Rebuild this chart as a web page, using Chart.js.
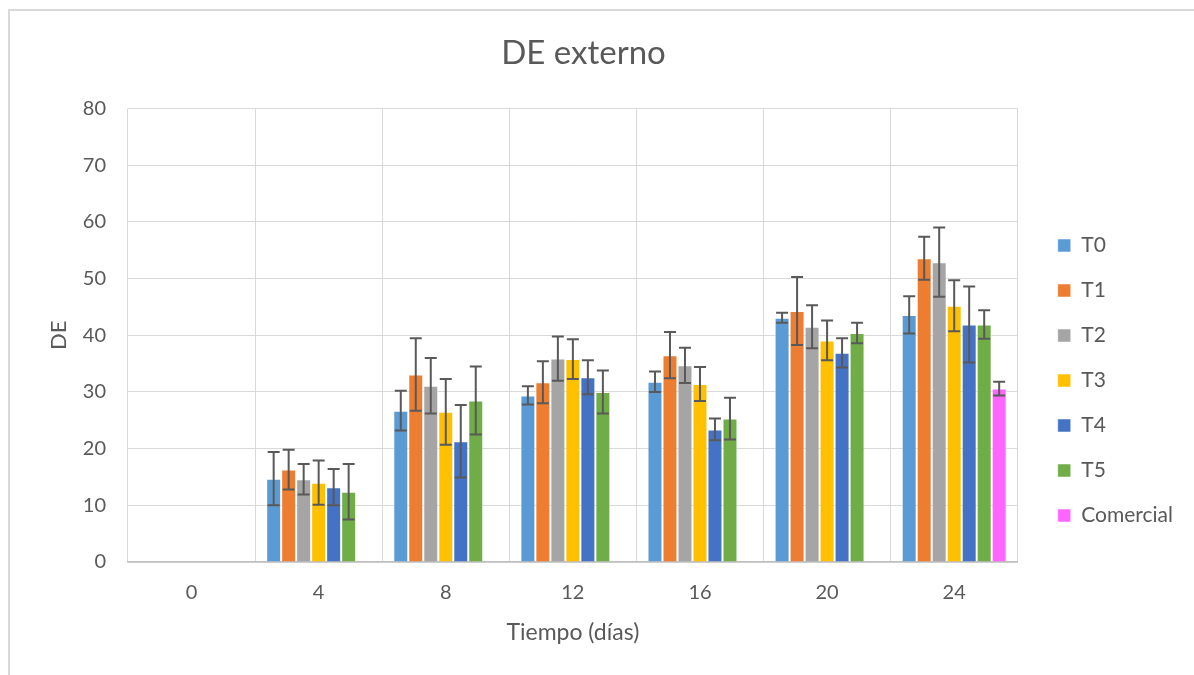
<!DOCTYPE html>
<html>
<head>
<meta charset="utf-8">
<script src="https://cdn.jsdelivr.net/npm/chart.js@4.4.1/dist/chart.umd.min.js"></script>
<style>
  html, body { margin: 0; padding: 0; background: #fff; overflow: hidden; }
  #frame { position: absolute; left: 8px; top: 9px; width: 1300px; height: 800px; border: 2px solid #d9d9d9; }
  #chart { position: absolute; left: 0; top: 0; }
</style>
</head>
<body>
<div id="frame"></div>
<canvas id="chart" width="1194" height="675"></canvas>
<script>
// dias de medicion
const days = ["0", "4", "8", "12", "16", "20", "24"];
const seriesNames = ["T0", "T1", "T2", "T3", "T4", "T5", "Comercial"];
const seriesColors = ["#5B9BD5", "#ED7D31", "#A5A5A5", "#FFC000", "#4472C4", "#70AD47", "#FF66FF"];

// medias
const t0 = [null, 14.7, 26.7, 29.4, 31.8, 43.1, 43.6];
const t1 = [null, 16.3, 33.1, 31.7, 36.5, 44.3, 53.6];
const t2 = [null, 14.6, 31.1, 35.9, 34.7, 41.5, 52.9];
const t3 = [null, 14.0, 26.5, 35.8, 31.4, 39.1, 45.2];
const t4 = [null, 13.2, 21.3, 32.6, 23.4, 36.9, 41.9];
const t5 = [null, 12.4, 28.5, 30.0, 25.3, 40.4, 41.9];
const comercial = [null, null, null, null, null, null, 30.6];

// desviaciones (barras de error)
const t0Err = [null, 4.7, 3.5, 1.6, 1.8, 0.9, 3.3];
const t1Err = [null, 3.5, 6.4, 3.7, 4.1, 6.0, 3.8];
const t2Err = [null, 2.7, 4.9, 3.9, 3.1, 3.8, 6.1];
const t3Err = [null, 3.9, 5.8, 3.5, 3.0, 3.5, 4.5];
const t4Err = [null, 3.2, 6.4, 3.0, 1.9, 2.6, 6.7];
const t5Err = [null, 4.9, 6.0, 3.8, 3.7, 1.8, 2.5];
const comercialErr = [null, null, null, null, null, null, 1.2];

const yTicks = [0, 10, 20, 30, 40, 50, 60, 70, 80];

const values = [t0, t1, t2, t3, t4, t5, comercial];
const errors = [t0Err, t1Err, t2Err, t3Err, t4Err, t5Err, comercialErr];

Chart.defaults.font.family = "Lato";
Chart.defaults.color = "#595959";

const errorBars = {
  id: "errorBars",
  afterDatasetsDraw(chart) {
    const ctx = chart.ctx;
    const yScale = chart.scales.y;
    ctx.save();
    ctx.strokeStyle = "#595959";
    ctx.lineWidth = 2;
    chart.data.datasets.forEach((ds, i) => {
      const meta = chart.getDatasetMeta(i);
      meta.data.forEach((bar, j) => {
        const v = ds.data[j];
        const e = errors[i][j];
        if (v == null || e == null) return;
        const yHi = yScale.getPixelForValue(v + e);
        const yLo = yScale.getPixelForValue(v - e);
        ctx.beginPath();
        ctx.moveTo(bar.x, yHi); ctx.lineTo(bar.x, yLo);
        ctx.moveTo(bar.x - 6, yHi); ctx.lineTo(bar.x + 6, yHi);
        ctx.moveTo(bar.x - 6, yLo); ctx.lineTo(bar.x + 6, yLo);
        ctx.stroke();
      });
    });
    ctx.restore();
  }
};

// la leyenda queda un poco separada del area de trazado
const legendOffset = {
  id: "legendOffset",
  afterLayout(chart) {
    const lg = chart.legend;
    lg.left += 16; lg.right += 16;
    lg.top += 43; lg.bottom += 43;
  }
};

new Chart(document.getElementById("chart"), {
  type: "bar",
  data: {
    labels: days,
    datasets: values.map((d, i) => ({
      label: seriesNames[i],
      data: d,
      backgroundColor: seriesColors[i],
      borderColor: "rgba(255,255,255,0.5)",
      borderWidth: 1,
      categoryPercentage: 0.826,
      barPercentage: 1.0
    }))
  },
  options: {
    responsive: false,
    animation: false,
    layout: { padding: { left: 0, top: 0, right: 27, bottom: 0 } },
    plugins: {
      title: {
        display: true,
        text: "DE externo",
        font: { size: 33, weight: "normal" },
        color: "#595959",
        padding: { top: 34, bottom: 35 }
      },
      legend: {
        position: "right",
        labels: {
          boxWidth: 13,
          boxHeight: 13,
          padding: 24,
          font: { size: 21 },
          color: "#595959"
        }
      },
      tooltip: { enabled: false }
    },
    scales: {
      x: {
        grid: { color: "#d9d9d9", offset: true, drawTicks: false },
        border: { color: "#bfbfbf", width: 1.5 },
        ticks: { font: { size: 20 }, padding: 19 },
        title: {
          display: true,
          text: "Tiempo (días)",
          font: { size: 23 },
          padding: { top: 0, bottom: 29 }
        },
        afterFit(scale) { scale.height = 113; }
      },
      y: {
        min: 0,
        max: 80,
        afterBuildTicks(scale) { scale.ticks = yTicks.map(v => ({ value: v })); },
        grid: { color: "#d9d9d9", drawTicks: false },
        border: { display: false },
        ticks: { font: { size: 20 }, padding: 22 },
        title: {
          display: true,
          text: "DE",
          font: { size: 22 },
          padding: { top: 46, bottom: 0 }
        },
        afterFit(scale) { scale.width = 128; }
      }
    }
  },
  plugins: [errorBars, legendOffset]
});
</script>
</body>
</html>
